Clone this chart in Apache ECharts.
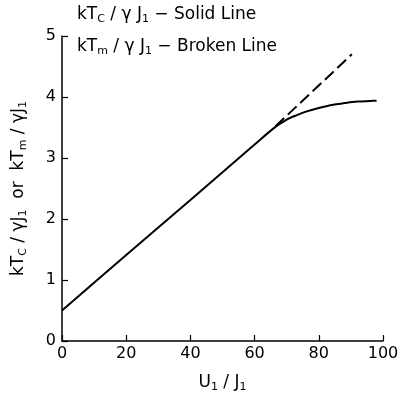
<!DOCTYPE html>
<html>
<head>
<meta charset="utf-8">
<script src="https://cdn.jsdelivr.net/npm/echarts@6/dist/echarts.min.js"></script>
<style>html,body{margin:0;padding:0;background:#fff;}#c{width:402px;height:398px;}</style>
</head>
<body>
<div id="c"></div>
<script>
var xTicks = [0, 20, 40, 60, 80, 100];
var yTicks = [0, 1, 2, 3, 4, 5];
var solidX = [0, 20, 40, 60, 66, 70, 73, 76, 80, 84, 88, 92, 96, 98];
var solidY = [0.5, 1.41, 2.31, 3.22, 3.49, 3.63, 3.70, 3.76, 3.82, 3.87, 3.90, 3.925, 3.935, 3.94];
var brokenX = [66.5, 90.3];
var brokenY = [3.52, 4.70];

var FONT = '"DejaVu Sans", sans-serif';
function pairs(xs, ys) { return xs.map(function (x, i) { return [x, ys[i]]; }); }
var subG = { fontSize: 11, fontFamily: FONT, fill: '#000', padding: [10, 0, 0, 0] };
var subA = { fontSize: 11, fontFamily: FONT, color: '#000', padding: [10, 0, 0, 0] };

var chart = echarts.init(document.getElementById('c'), null, { renderer: 'canvas' });
chart.setOption({
  backgroundColor: '#fff',
  animation: false,
  grid: { left: 62, right: 19, top: 36, bottom: 50 },
  graphic: [
    { type: 'text', left: 77, top: 6, style: {
      text: 'kT{s|C} / γ J{s|1} − Solid Line',
      font: '17px ' + FONT, fill: '#000', rich: { s: subG }
    } },
    { type: 'text', left: 77, top: 38, style: {
      text: 'kT{s|m} / γ J{s|1} − Broken Line',
      font: '17px ' + FONT, fill: '#000', rich: { s: subG }
    } }
  ],
  xAxis: {
    type: 'value', min: 0, max: 100, interval: 20,
    name: 'U{s|1} / J{s|1}', nameLocation: 'middle', nameGap: 31,
    nameTextStyle: { fontSize: 17, fontFamily: FONT, color: '#000', rich: { s: subA } },
    axisLine: { show: true, lineStyle: { color: '#000', width: 1.5 } },
    axisTick: { show: true, inside: true, length: 6, lineStyle: { color: '#000', width: 1.2 } },
    axisLabel: { fontSize: 16, fontFamily: FONT, color: '#000', margin: 5,
      formatter: function (v) { return xTicks.indexOf(v) >= 0 ? String(v) : ''; } },
    splitLine: { show: false }
  },
  yAxis: {
    type: 'value', min: 0, max: 5, interval: 1,
    name: 'kT{s|C} / γJ{s|1}  or  kT{s|m} / γJ{s|1}', nameLocation: 'middle', nameGap: 33, nameRotate: 90,
    nameTextStyle: { fontSize: 17, fontFamily: FONT, color: '#000', rich: { s: subA } },
    axisLine: { show: true, lineStyle: { color: '#000', width: 1.5 } },
    axisTick: { show: true, inside: true, length: 6, lineStyle: { color: '#000', width: 1.2 } },
    axisLabel: { fontSize: 16, fontFamily: FONT, color: '#000', margin: 6,
      formatter: function (v) { return yTicks.indexOf(v) >= 0 ? String(v) : ''; } },
    splitLine: { show: false }
  },
  series: [
    { type: 'line', name: 'solid', data: pairs(solidX, solidY), smooth: 0.3, showSymbol: false,
      lineStyle: { color: '#000', width: 2 } },
    { type: 'line', name: 'broken', data: pairs(brokenX, brokenY), showSymbol: false,
      lineStyle: { color: '#000', width: 2, type: [12, 5] } }
  ]
});
</script>
</body>
</html>
